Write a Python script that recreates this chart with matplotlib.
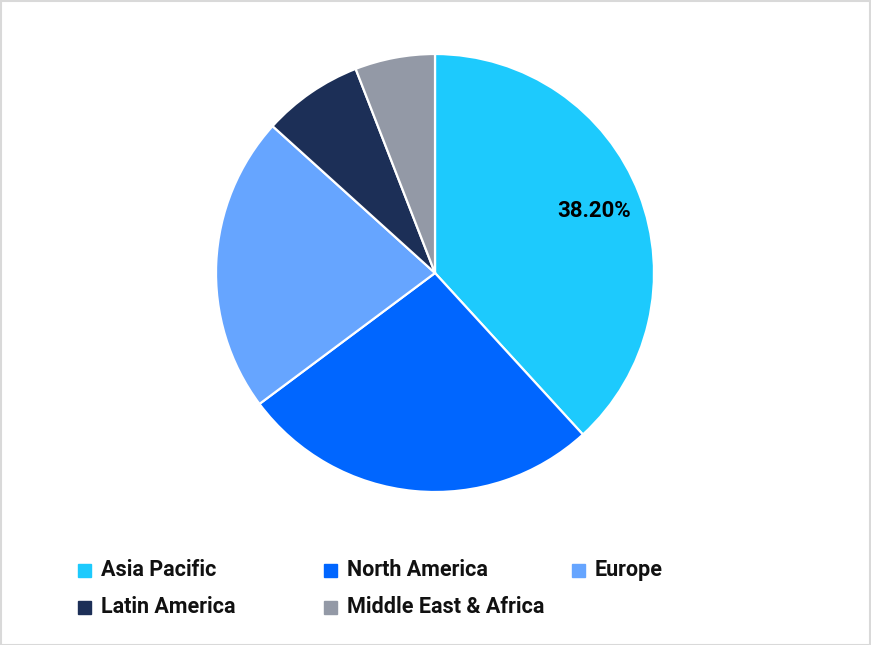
import matplotlib.pyplot as plt
from matplotlib.patches import Rectangle
import numpy as np

regions = ['Asia Pacific', 'North America', 'Europe', 'Latin America', 'Middle East & Africa']
shares = [38.2, 26.6, 21.9, 7.4, 5.9]
colors = ['#1DCAFD', '#0066FF', '#66A5FF', '#1C2F57', '#9399A6']

W, H = 871, 645
fig = plt.figure(figsize=(W / 100, H / 100), dpi=100)
plt.rcParams['font.family'] = ['Roboto', 'DejaVu Sans']

# pie centre (435, 273) px, radius 219 px
cx, cy, r = 435, 273, 219
ax = fig.add_axes([(cx - r) / W, (H - cy - r) / H, 2 * r / W, 2 * r / H])
wedges, _ = ax.pie(shares, colors=colors, startangle=90, counterclock=False,
                   wedgeprops=dict(edgecolor='white', linewidth=1.6))
ax.set_xlim(-1, 1)
ax.set_ylim(-1, 1)
ax.axis('off')

# only the largest slice is labelled
mid = 90 - shares[0] / 100 * 360 / 2
ax.text(0.78 * np.cos(np.radians(mid)), 0.78 * np.sin(np.radians(mid)),
        f'{shares[0]:.2f}%', ha='center', va='center', fontsize=16, fontweight='bold')

# legend laid out as in the reference
col_x = [78, 324, 572]
row_y = [570, 607]
for i, (name, c) in enumerate(zip(regions, colors)):
    x = col_x[i % 3]
    y = row_y[i // 3]
    fig.patches.append(Rectangle((x / W, (H - y - 6.5) / H), 13 / W, 13 / H,
                                 transform=fig.transFigure, color=c))
    fig.text((x + 23) / W, (H - y) / H, name, ha='left', va='center',
             fontsize=15.5, fontweight='bold', color='#111111')

# thin grey frame round the chart
fig.patches.append(Rectangle((0.5 / W, 0.5 / H), 1 - 1.5 / W, 1 - 1.5 / H,
                             transform=fig.transFigure, fill=False,
                             edgecolor='#D9D9D9', linewidth=1.5))

fig.savefig('out.png', dpi=100, facecolor='white')
